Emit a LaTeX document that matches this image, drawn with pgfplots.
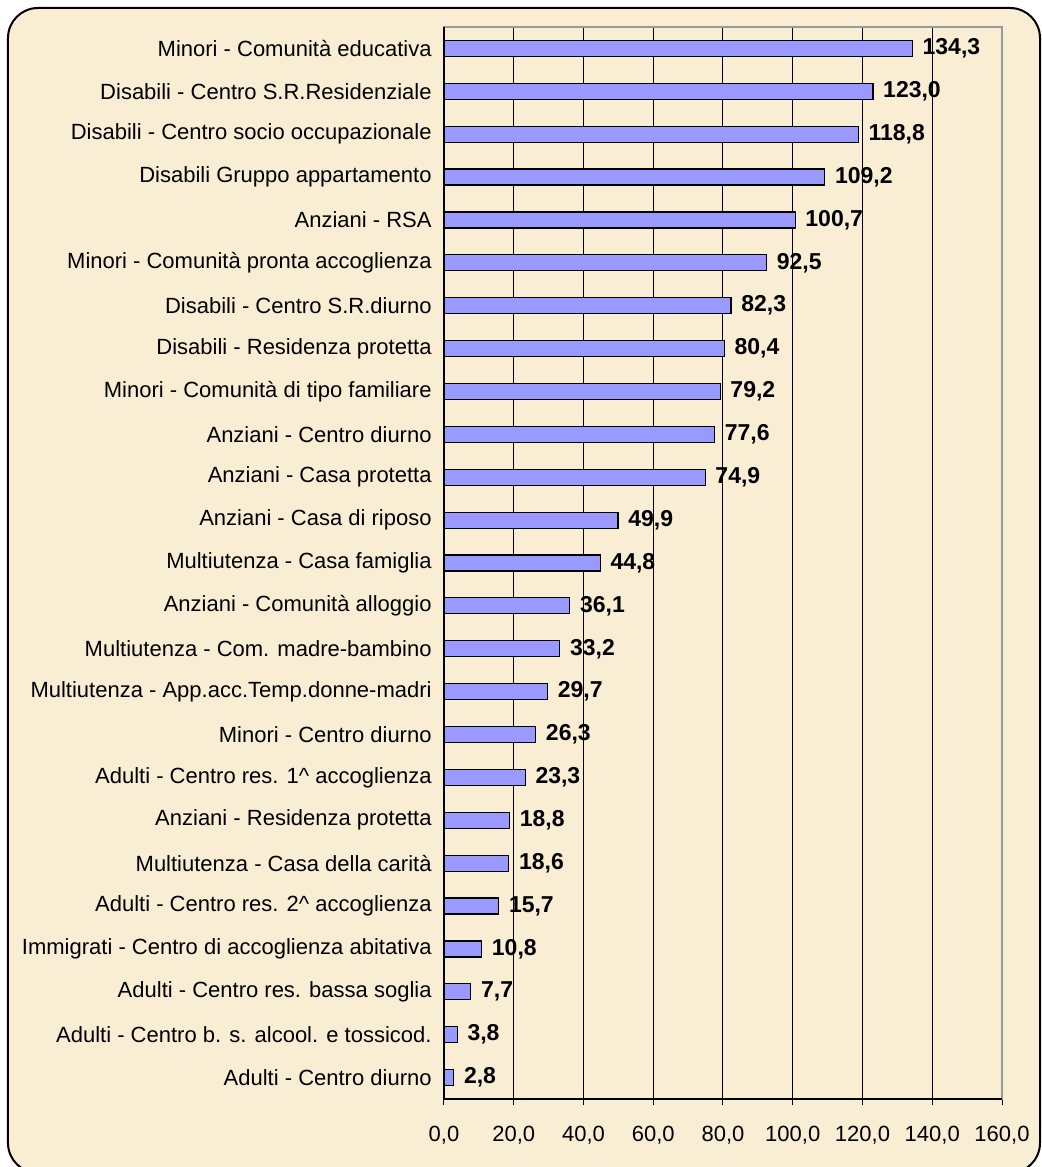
\documentclass[border=0pt]{standalone}
\usepackage{pgfplots}
\pgfplotsset{compat=1.18}
\usepackage{fontspec}
\setmainfont{Liberation Sans}
\definecolor{bg}{RGB}{249,237,212}
\definecolor{barc}{RGB}{153,153,255}
\begin{document}
\begin{tikzpicture}
\path[use as bounding box] (-222pt,-34pt) rectangle (299pt,549.5pt);
\draw[line width=1pt, fill=bg, rounded corners=15pt] (-218pt,-37pt) rectangle (298pt,545.5pt);
\begin{axis}[
  xbar, bar width=8pt,
  width=279pt, height=536pt, scale only axis,
  xmin=0, xmax=160, ymin=-0.5, ymax=24.5,
  xtick={0,20,...,160},
  ytick={0,...,24},
  yticklabels={
    {Adulti - Centro diurno},
    {Adulti - Centro  b. s. alcool. e tossicod.},
    {Adulti - Centro res. bassa soglia},
    {Immigrati - Centro di accoglienza abitativa},
    {Adulti - Centro res. 2\textasciicircum{} accoglienza},
    {Multiutenza - Casa della carità},
    {Anziani - Residenza protetta},
    {Adulti - Centro res. 1\textasciicircum{} accoglienza},
    {Minori - Centro diurno},
    {Multiutenza - App.acc.Temp.donne-madri},
    {Multiutenza - Com. madre-bambino},
    {Anziani - Comunità alloggio},
    {Multiutenza - Casa famiglia},
    {Anziani - Casa di riposo},
    {Anziani - Casa protetta},
    {Anziani - Centro diurno},
    {Minori - Comunità di tipo familiare},
    {Disabili - Residenza protetta},
    {Disabili - Centro S.R.diurno},
    {Minori - Comunità pronta accoglienza},
    {Anziani - RSA},
    {Disabili Gruppo appartamento},
    {Disabili - Centro socio occupazionale},
    {Disabili - Centro S.R.Residenziale},
    {Minori - Comunità educativa}},
  xmajorgrids, major grid style={black, line width=0.5pt},
  axis line style={draw=gray!80, line width=0.8pt},
  tick align=outside, xtick pos=bottom, ytick pos=left,
  major tick length=3pt,
  xtick style={black, line width=0.5pt},
  ytick style={draw=none},
  tick label style={font=\fontsize{11}{13}\selectfont},
  xticklabel style={yshift=-7pt, /pgf/number format/.cd, fixed, fixed zerofill, precision=1, use comma, assume math mode=true},
  yticklabel style={inner sep=0pt, xshift=-3pt},
  nodes near coords,
  nodes near coords style={font=\bfseries\fontsize{11.5}{13}\selectfont, xshift=1.5pt,
     /pgf/number format/.cd, fixed, fixed zerofill, precision=1, use comma, assume math mode=true},
  clip=false,
]
\addplot[draw=black, line width=0.6pt, fill=barc] coordinates {
(2.8,0) (3.8,1) (7.7,2) (10.8,3) (15.7,4) (18.6,5) (18.8,6) (23.3,7) (26.3,8)
(29.7,9) (33.2,10) (36.1,11) (44.8,12) (49.9,13) (74.9,14) (77.6,15) (79.2,16)
(80.4,17) (82.3,18) (92.5,19) (100.7,20) (109.2,21) (118.8,22) (123.0,23) (134.3,24)
};
\draw[black, line width=0.8pt] (rel axis cs:0,1) -- (rel axis cs:0,0) -- (rel axis cs:1,0);
\end{axis}
\end{tikzpicture}
\end{document}
